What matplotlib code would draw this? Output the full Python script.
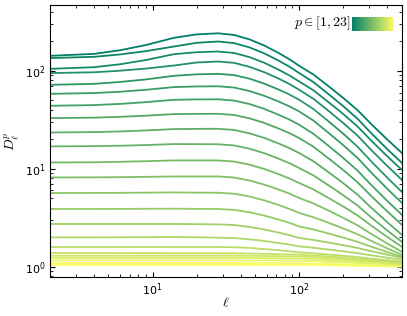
import matplotlib.pyplot as plt
import numpy as np

plt.rcParams['mathtext.fontset'] = 'cm'

ell = [2, 4, 6, 9, 14, 20, 28, 36, 46, 58, 72, 86, 100,
       125, 160, 200, 250, 310, 400, 500]

# log10 D^p_ell, p = 1 .. 23
logD1 = [0.017, 0.017, 0.017, 0.017, 0.017, 0.017, 0.017, 0.017, 0.017, 0.017, 0.017, 0.017, 0.017,
         0.015, 0.013, 0.011, 0.008, 0.006, 0.003, 0.000]
logD2 = [0.037, 0.037, 0.037, 0.037, 0.037, 0.037, 0.037, 0.037, 0.036, 0.035, 0.035, 0.034, 0.033,
         0.030, 0.026, 0.022, 0.018, 0.014, 0.008, 0.004]
logD3 = [0.064, 0.064, 0.064, 0.064, 0.064, 0.064, 0.064, 0.064, 0.063, 0.063, 0.062, 0.061, 0.061,
         0.056, 0.049, 0.043, 0.037, 0.029, 0.020, 0.013]
logD4 = [0.090, 0.090, 0.090, 0.090, 0.090, 0.090, 0.090, 0.090, 0.089, 0.087, 0.086, 0.084, 0.083,
         0.077, 0.068, 0.060, 0.051, 0.041, 0.030, 0.021]
logD5 = [0.112, 0.112, 0.112, 0.112, 0.112, 0.112, 0.112, 0.112, 0.110, 0.109, 0.107, 0.106, 0.104,
         0.097, 0.086, 0.077, 0.066, 0.054, 0.041, 0.030]
logD6 = [0.140, 0.140, 0.139, 0.138, 0.137, 0.137, 0.137, 0.136, 0.134, 0.131, 0.128, 0.125, 0.122,
         0.114, 0.103, 0.092, 0.081, 0.068, 0.053, 0.041]
logD7 = [0.201, 0.201, 0.201, 0.201, 0.201, 0.201, 0.201, 0.198, 0.191, 0.180, 0.168, 0.157, 0.146,
         0.137, 0.123, 0.111, 0.098, 0.082, 0.065, 0.051]
logD8 = [0.299, 0.299, 0.300, 0.301, 0.303, 0.300, 0.296, 0.292, 0.279, 0.262, 0.243, 0.225, 0.207,
         0.193, 0.174, 0.157, 0.138, 0.116, 0.091, 0.071]
logD9 = [0.436, 0.436, 0.436, 0.436, 0.436, 0.434, 0.432, 0.425, 0.406, 0.379, 0.349, 0.321, 0.293,
         0.273, 0.245, 0.219, 0.191, 0.158, 0.122, 0.092]
logD10 = [0.589, 0.589, 0.590, 0.591, 0.592, 0.590, 0.589, 0.580, 0.555, 0.521, 0.482, 0.447, 0.411,
          0.380, 0.337, 0.297, 0.253, 0.204, 0.148, 0.102]
logD11 = [0.752, 0.753, 0.754, 0.756, 0.758, 0.756, 0.755, 0.745, 0.716, 0.676, 0.631, 0.589, 0.548,
          0.505, 0.446, 0.390, 0.331, 0.263, 0.186, 0.122]
logD12 = [0.911, 0.912, 0.914, 0.917, 0.921, 0.921, 0.921, 0.910, 0.879, 0.837, 0.789, 0.745, 0.701,
          0.646, 0.570, 0.498, 0.422, 0.334, 0.235, 0.153]
logD13 = [1.064, 1.066, 1.071, 1.077, 1.085, 1.085, 1.085, 1.073, 1.041, 0.997, 0.946, 0.900, 0.854,
          0.789, 0.698, 0.614, 0.523, 0.419, 0.302, 0.204]
logD14 = [1.228, 1.231, 1.235, 1.242, 1.252, 1.251, 1.250, 1.238, 1.204, 1.158, 1.104, 1.056, 1.007,
          0.932, 0.827, 0.729, 0.624, 0.503, 0.368, 0.255]
logD15 = [1.370, 1.374, 1.381, 1.391, 1.405, 1.407, 1.408, 1.396, 1.361, 1.314, 1.259, 1.210, 1.160,
          1.077, 0.960, 0.852, 0.735, 0.602, 0.452, 0.327]
logD16 = [1.517, 1.522, 1.530, 1.542, 1.558, 1.560, 1.561, 1.549, 1.514, 1.467, 1.412, 1.363, 1.313,
          1.225, 1.101, 0.986, 0.862, 0.721, 0.562, 0.429]
logD17 = [1.643, 1.650, 1.662, 1.680, 1.704, 1.708, 1.709, 1.696, 1.660, 1.610, 1.553, 1.501, 1.449,
          1.357, 1.229, 1.109, 0.981, 0.834, 0.669, 0.531]
logD18 = [1.765, 1.773, 1.786, 1.806, 1.834, 1.840, 1.842, 1.829, 1.793, 1.744, 1.688, 1.636, 1.585,
          1.492, 1.361, 1.240, 1.110, 0.961, 0.793, 0.653]
logD19 = [1.857, 1.867, 1.886, 1.912, 1.949, 1.964, 1.969, 1.956, 1.919, 1.868, 1.810, 1.757, 1.704,
          1.610, 1.479, 1.357, 1.225, 1.075, 0.906, 0.765]
logD20 = [1.977, 1.985, 2.001, 2.023, 2.054, 2.085, 2.095, 2.081, 2.040, 1.985, 1.922, 1.864, 1.806,
          1.714, 1.586, 1.466, 1.338, 1.191, 1.026, 0.888]
logD21 = [2.020, 2.037, 2.067, 2.110, 2.170, 2.190, 2.197, 2.182, 2.139, 2.081, 2.013, 1.952, 1.891,
          1.801, 1.675, 1.558, 1.431, 1.287, 1.125, 0.990]
logD22 = [2.130, 2.143, 2.167, 2.201, 2.248, 2.286, 2.299, 2.283, 2.238, 2.177, 2.106, 2.041, 1.977,
          1.885, 1.757, 1.638, 1.510, 1.363, 1.198, 1.061]
logD23 = [2.153, 2.173, 2.210, 2.263, 2.337, 2.372, 2.383, 2.366, 2.320, 2.257, 2.184, 2.117, 2.051,
          1.962, 1.838, 1.722, 1.598, 1.456, 1.296, 1.163]

curves = [logD1, logD2, logD3, logD4, logD5, logD6, logD7, logD8, logD9, logD10, logD11, logD12,
          logD13, logD14, logD15, logD16, logD17, logD18, logD19, logD20, logD21, logD22, logD23]
p_min, p_max = 1, 23

fig = plt.figure(figsize=(4.07, 3.16), dpi=100)
ax = fig.add_axes([0.1229, 0.1244, 0.8641, 0.8598])

cmap = plt.cm.summer
for p, logd in zip(range(p_min, p_max + 1), curves):
    ax.plot(ell, 10 ** np.asarray(logd), color=cmap((p_max - p) / (p_max - p_min)), lw=1.3)

ax.set_xscale('log')
ax.set_yscale('log')
ax.set_xlim(2, 500)
ax.set_ylim(0.79, 470)
ax.tick_params(which='both', direction='in', top=True, right=True, labelsize=8)
ax.set_xlabel(r'$\ell$', fontsize=10)
ax.set_ylabel(r'$D^p_\ell$', fontsize=10)
ax.xaxis.set_label_coords(0.5, -0.07)
ax.yaxis.set_label_coords(-0.082, 0.5)

# "legend": label plus a colour strip
ax.text(0.855, 0.932, r'$p \in [1, 23]$', transform=ax.transAxes,
        ha='right', va='center', fontsize=10)
cax = ax.inset_axes([0.858, 0.905, 0.117, 0.05])
cax.imshow(np.linspace(0, 1, 256)[None, :], aspect='auto', cmap=cmap)
cax.set_axis_off()

fig.savefig('out.png', dpi=100)
